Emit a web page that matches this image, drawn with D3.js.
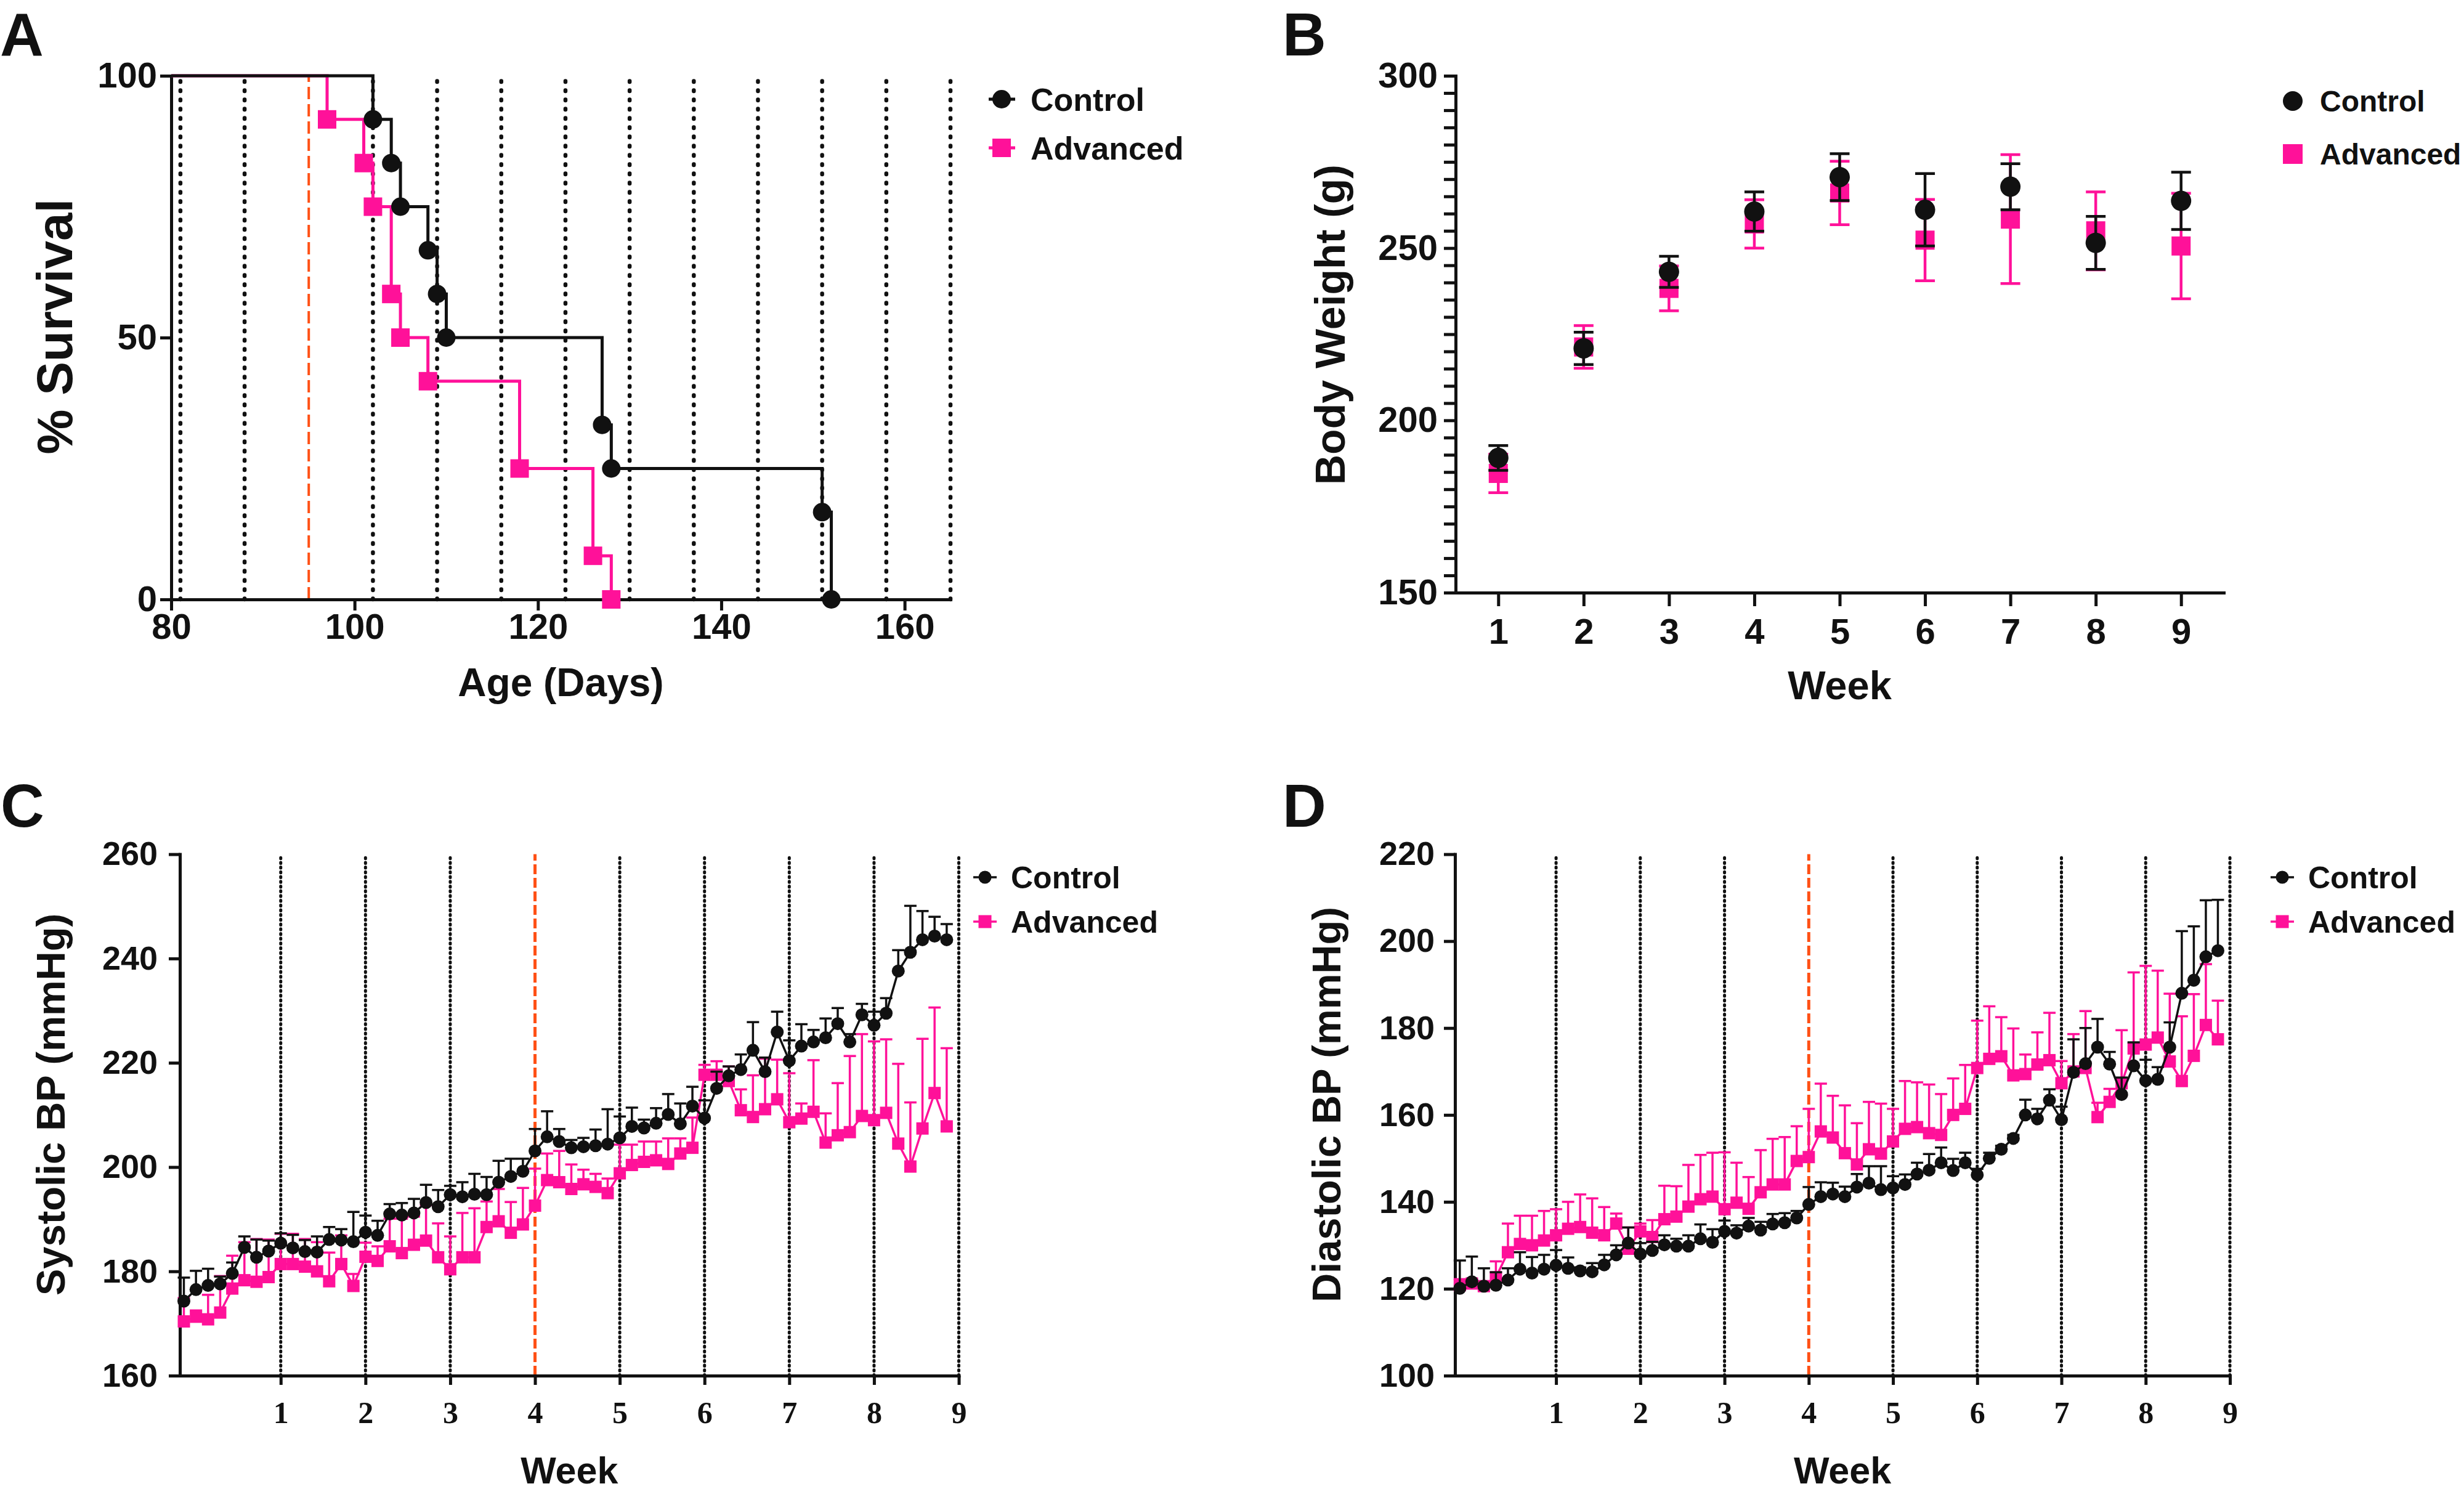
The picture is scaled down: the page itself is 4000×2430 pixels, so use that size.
<!DOCTYPE html>
<html><head><meta charset="utf-8">
<script src="https://cdn.jsdelivr.net/npm/d3@7"></script>
<style>
body{margin:0;background:#fff}
svg{display:block;background:#fff}
text{font-family:"Liberation Sans",Arial,Helvetica,sans-serif;font-weight:bold;fill:#111}
</style></head><body>
<svg id="chart" width="4000" height="2430"></svg>
<script>
// ---------- Panel A: survival ----------
const survDaysCtrl = [80, 102, 104, 105, 108, 109, 110, 127, 128, 151, 152];
const survCtrl     = [100, 91.67, 83.33, 75, 66.67, 58.33, 50, 33.33, 25, 16.67, 0];
const survDaysAdv  = [80, 97, 101, 102, 104, 105, 108, 118, 126, 128];
const survAdv      = [100, 91.67, 83.33, 75, 58.33, 50, 41.67, 25, 8.33, 0];
const survGridDays = [81, 88, 102, 109, 116, 123, 130, 137, 144, 151, 158, 165];
const survMarkerDay = 95;
const survXTicks = [80, 100, 120, 140, 160];
const survYTicks = [0, 50, 100];

// ---------- Panel B: body weight ----------
const bwWeeks   = [1, 2, 3, 4, 5, 6, 7, 8, 9];
const bwCtrl    = [189.1, 220.9, 243.1, 260.6, 270.6, 261.1, 267.8, 251.5, 263.7];
const bwCtrlErr = [3.6, 4.7, 4.5, 5.7, 6.8, 10.5, 6.7, 7.7, 8.3];
const bwAdv     = [184.6, 221.3, 238.3, 257.0, 266.0, 252.3, 258.4, 255.0, 250.6];
const bwAdvErr  = [5.6, 6.2, 6.5, 7.0, 9.2, 11.8, 18.7, 11.3, 15.3];
const bwYLabels = [150, 200, 250, 300];

// ---------- Panels C & D: blood pressure (daily, day -1 .. 62) ----------
const bpDays = [-1,0,1,2,3,4,5,6,7,8,9,10,11,12,13,14,15,16,17,18,19,20,
  21,22,23,24,25,26,27,28,29,30,31,32,33,34,35,36,37,38,39,40,41,
  42,43,44,45,46,47,48,49,50,51,52,53,54,55,56,57,58,59,60,61,62];
const bpWeekTicks = [1, 2, 3, 4, 5, 6, 7, 8, 9];
const bpGridWeeks = [1, 2, 3, 5, 6, 7, 8, 9];
const bpMarkerWeek = 4;

const sbpCtrl = [174.3,176.5,177.3,177.6,179.6,184.6,182.7,183.9,185.4,184.5,183.8,183.7,186.1,186.0,185.7,187.5,186.9,191.0,190.8,191.2,193.2,192.4,
  194.7,194.3,194.8,194.7,197.1,198.2,199.2,203.1,205.8,204.9,203.7,203.9,204.1,204.4,205.6,207.8,207.5,208.4,210.1,208.3,211.7,
  209.4,215.1,217.5,218.7,222.4,218.3,225.9,220.4,223.2,224.0,224.8,227.5,224.0,229.2,227.2,229.5,237.6,241.2,243.6,244.3,243.6];
const sbpCtrlErr = [4.5,3.6,3.2,1.4,2.1,2.1,3.4,2.0,1.9,2.5,2.2,3.0,2.4,2.1,5.7,3.2,2.8,1.9,2.3,2.7,3.4,3.2,
  1.7,2.8,3.9,3.4,4.1,3.4,2.4,4.2,4.9,2.4,1.5,1.7,3.1,6.7,4.1,3.6,1.6,2.9,3.9,3.9,3.7,
  3.4,3.2,1.8,2.9,5.4,2.7,3.9,3.9,4.2,2.3,3.7,3.0,1.5,2.1,2.6,2.9,4.0,8.9,5.5,3.7,3.0];
const sbpAdv = [170.4,171.3,170.8,172.1,176.7,178.3,178.0,178.9,181.4,181.4,180.9,180.0,178.1,181.4,177.2,182.8,182.0,184.8,183.5,185.1,185.9,182.7,
  180.4,182.7,182.7,188.5,189.6,187.4,189.0,192.6,197.5,197.1,195.8,196.7,196.2,195.0,198.8,200.4,201.0,201.3,200.6,202.6,203.7,
  217.7,217.7,216.5,210.9,209.6,211.1,213.0,208.6,209.3,210.6,204.7,206.1,206.7,209.8,209.0,210.4,204.5,200.1,207.4,214.2,207.8];
const sbpAdvErr = [4.5,1.2,4.7,7.0,6.3,7.3,8.2,7.2,5.8,5.8,5.3,5.6,5.5,5.5,2.3,2.7,2.8,5.3,6.6,5.4,6.8,6.5,
  6.3,8.5,9.4,4.9,6.2,5.9,7.0,7.1,5.1,6.0,4.7,2.8,2.5,2.8,5.5,3.9,3.9,3.6,4.9,2.9,5.8,
  1.9,2.6,2.8,4.0,8.0,9.7,7.6,9.4,2.9,9.9,5.6,10.0,14.6,15.7,15.1,14.1,15.3,12.3,17.2,16.4,15.0];

const dbpCtrl = [120.1,121.6,120.6,120.8,122.0,124.5,123.6,124.5,125.4,124.7,124.1,123.9,125.5,127.8,130.5,128.0,128.8,130.1,129.8,129.8,131.5,130.7,
  133.2,132.8,134.4,133.5,134.9,135.2,136.3,139.4,141.2,141.8,141.2,143.4,144.3,142.8,143.2,144.0,146.4,147.3,149.0,147.2,149.0,
  146.2,150.0,152.1,154.6,160.0,159.1,163.4,158.9,169.8,171.8,175.6,171.7,164.7,171.3,167.9,168.2,175.6,188.0,191.0,196.4,197.8];
const dbpCtrlErr = [6.4,5.8,4.1,3.0,2.7,3.9,3.7,3.3,3.5,2.5,0.8,2.0,2.3,2.2,3.6,2.5,2.0,2.2,1.7,2.5,3.3,3.0,
  2.5,1.8,1.9,1.9,2.3,2.2,1.6,4.0,3.3,2.6,2.3,3.0,3.9,5.4,2.7,2.3,2.6,3.7,3.5,2.7,2.3,
  1.4,1.3,0.8,0.8,3.5,2.3,2.5,3.0,7.6,8.2,6.5,2.8,3.9,5.4,4.8,2.8,5.7,14.3,12.4,13.0,11.7];
const dbpAdv = [120.8,121.2,120.6,122.6,128.4,130.3,130.0,131.1,132.3,133.8,134.2,132.9,132.3,135.0,129.2,133.2,131.9,136.0,136.6,138.9,140.6,141.2,
  138.3,139.8,138.4,142.2,144.0,144.0,149.4,150.3,156.2,154.8,151.2,148.6,152.1,151.1,153.9,156.8,157.2,155.8,155.4,160.0,161.4,
  170.8,172.9,173.5,169.1,169.4,171.6,172.6,167.3,170.0,170.8,159.5,163.0,167.3,175.3,176.2,177.8,172.3,167.8,173.6,180.7,177.4];
const dbpAdvErr = [1.4,1.0,0.5,3.7,6.6,6.5,6.8,6.8,6.0,6.2,7.5,7.9,6.5,2.3,4.9,1.8,3.9,7.7,7.0,9.6,10.2,10.1,
  13.1,9.2,7.3,9.7,10.5,10.9,8.0,11.1,11.0,9.6,11.0,9.5,10.9,11.5,7.5,11.0,10.3,11.2,9.4,8.4,10.1,
  10.9,12.1,9.0,10.8,4.5,7.4,10.9,5.1,8.6,13.1,3.3,3.0,12.2,17.5,18.1,15.4,15.6,14.9,14.2,14.0,8.9];

const seriesNames = ['Control', 'Advanced'];

// ---------- styling ----------
const PINK = '#FF1199', BLACK = '#111111', ORANGE = '#FF5015';
const SANS = '"Liberation Sans", Arial, Helvetica, sans-serif';
const SERIF = '"Liberation Serif", "Times New Roman", serif';
const svg = d3.select('#chart');

function styleAxis(g, sw, fs, family) {
  g.select('.domain').attr('stroke', BLACK).attr('stroke-width', sw).attr('stroke-linecap', 'square');
  g.selectAll('.tick line').attr('stroke', BLACK).attr('stroke-width', sw);
  g.selectAll('.tick text').attr('fill', BLACK)
    .style('font-size', fs + 'px').style('font-family', family).style('font-weight', 'bold');
}
function dotted(g, x1, y1, x2, y2, w, dash) {
  g.append('line').attr('x1', x1).attr('x2', x2).attr('y1', y1).attr('y2', y2)
    .attr('stroke', BLACK).attr('stroke-width', w).attr('stroke-dasharray', dash).attr('stroke-linecap', 'round');
}
function dashedOrange(g, x1, y1, x2, y2, w, dash) {
  g.append('line').attr('x1', x1).attr('x2', x2).attr('y1', y1).attr('y2', y2)
    .attr('stroke', ORANGE).attr('stroke-width', w).attr('stroke-dasharray', dash);
}
function marker(g, shape, cx, cy, size, color) {
  if (shape === 'circle') g.append('circle').attr('cx', cx).attr('cy', cy).attr('r', size / 2).attr('fill', color);
  else g.append('rect').attr('x', cx - size / 2).attr('y', cy - size / 2).attr('width', size).attr('height', size).attr('fill', color);
}
function label(txt, x, y, fs, opts = {}) {
  const t = svg.append('text').attr('x', x).attr('y', y).text(txt)
    .style('font-size', fs + 'px').style('font-family', opts.family || SANS).style('font-weight', 'bold')
    .attr('text-anchor', opts.anchor || 'start').attr('fill', BLACK);
  if (opts.rotate) t.attr('transform', `rotate(-90 ${x} ${y})`);
  if (opts.dy) t.attr('dy', opts.dy);
  return t;
}

// panel letters
label('A', 0, 90, 98); label('B', 2082, 90, 98);
label('C', 1, 1342, 98); label('D', 2082, 1342, 98);

// ================= Panel A =================
{
  const x = d3.scaleLinear().domain([80, 165]).range([278, 1543]);
  const y = d3.scaleLinear().domain([0, 100]).range([973, 123]);
  const g = svg.append('g');
  survGridDays.forEach(d => dotted(g, x(d), y(0), x(d), y(100), 6.5, '1.5 13.5'));
  dashedOrange(g, x(survMarkerDay), y(0), x(survMarkerDay), y(100), 4, '20 8');
  const ya = g.append('g').attr('transform', `translate(${x(80)},0)`)
    .call(d3.axisLeft(y).tickValues(survYTicks).tickSize(18).tickPadding(5).tickSizeOuter(0));
  styleAxis(ya, 5, 58, SANS);
  const xa = g.append('g').attr('transform', `translate(0,${y(0)})`)
    .call(d3.axisBottom(x).tickValues(survXTicks).tickSize(18).tickPadding(5).tickSizeOuter(0));
  styleAxis(xa, 5, 58, SANS);
  const step = d3.line().curve(d3.curveStepAfter);
  const sets = [
    [survDaysAdv, survAdv, PINK, 'rect'],
    [survDaysCtrl, survCtrl, BLACK, 'circle']
  ];
  sets.forEach(([ds, vs, col, shp]) => {
    g.append('path').attr('d', step(ds.map((d, i) => [x(d), y(vs[i])])))
      .attr('fill', 'none').attr('stroke', col).attr('stroke-width', 5);
    ds.forEach((d, i) => { if (i > 0) marker(g, shp, x(d), y(vs[i]), 30, col); });
  });
  label('Age (Days)', (x(80) + x(165)) / 2, 1130, 64, {anchor: 'middle'});
  label('% Survival', 117, 530, 82, {anchor: 'middle', rotate: true});
  // legend
  [[seriesNames[0], BLACK, 'circle', 161], [seriesNames[1], PINK, 'rect', 240]].forEach(([n, c, s, ly]) => {
    g.append('line').attr('x1', 1605).attr('x2', 1648).attr('y1', ly).attr('y2', ly).attr('stroke', c).attr('stroke-width', 5);
    marker(g, s, 1626, ly, 30, c);
    label(n, 1673, ly, 52, {dy: '0.36em'});
  });
}

// ================= Panel B =================
{
  const x = d3.scaleLinear().domain([0.5, 9.5]).range([2363, 3610]);
  const y = d3.scaleLinear().domain([150, 300]).range([962, 123]);
  const g = svg.append('g');
  const yTicks = d3.range(150, 301, 5);
  const ya = g.append('g').attr('transform', `translate(${x(0.5)},0)`)
    .call(d3.axisLeft(y).tickValues(yTicks).tickSize(19).tickPadding(10).tickSizeOuter(0)
      .tickFormat(v => bwYLabels.includes(v) ? v : ''));
  styleAxis(ya, 5, 58, SANS);
  const xa = g.append('g').attr('transform', `translate(0,${y(150)})`)
    .call(d3.axisBottom(x).tickValues(bwWeeks).tickSize(22).tickPadding(20).tickSizeOuter(0));
  styleAxis(xa, 5, 58, SANS);
  const sets = [[bwAdv, bwAdvErr, PINK, 'rect'], [bwCtrl, bwCtrlErr, BLACK, 'circle']];
  sets.forEach(([vs, es, col, shp]) => {
    bwWeeks.forEach((w, i) => {
      const cx = x(w), lo = y(vs[i] - es[i]), hi = y(vs[i] + es[i]);
      g.append('line').attr('x1', cx).attr('x2', cx).attr('y1', lo).attr('y2', hi).attr('stroke', col).attr('stroke-width', 4.5);
      [lo, hi].forEach(yy => g.append('line').attr('x1', cx - 16).attr('x2', cx + 16).attr('y1', yy).attr('y2', yy).attr('stroke', col).attr('stroke-width', 4.5));
    });
    bwWeeks.forEach((w, i) => marker(g, shp, x(w), y(vs[i]), shp === 'circle' ? 33 : 31, col));
  });
  label('Week', (x(0.5) + x(9.5)) / 2, 1135, 65, {anchor: 'middle'});
  label('Body Weight (g)', 2183, 527, 68, {anchor: 'middle', rotate: true});
  [[seriesNames[0], BLACK, 'circle', 164], [seriesNames[1], PINK, 'rect', 250]].forEach(([n, c, s, ly]) => {
    marker(g, s, 3722, ly, 32, c);
    label(n, 3766, ly, 48, {dy: '0.36em'});
  });
}

// ================= Panels C & D =================
function bpPanel(cfg) {
  const x = d3.scaleLinear().domain([cfg.w0, 9]).range(cfg.xr);
  const y = d3.scaleLinear().domain(cfg.yd).range([2233, 1386.6]);
  const g = svg.append('g');
  bpGridWeeks.forEach(w => dotted(g, x(w), y(cfg.yd[0]), x(w), y(cfg.yd[1]), 5, '1.5 6.2'));
  dashedOrange(g, x(bpMarkerWeek), y(cfg.yd[0]), x(bpMarkerWeek), y(cfg.yd[1]), 5, '16 6');
  const ya = g.append('g').attr('transform', `translate(${cfg.xr[0]},0)`)
    .call(d3.axisLeft(y).tickValues(d3.range(cfg.yd[0], cfg.yd[1] + 1, 20)).tickSize(18).tickPadding(cfg.ypad).tickSizeOuter(0));
  styleAxis(ya, 5, 54, SANS);
  const xa = g.append('g').attr('transform', `translate(0,${y(cfg.yd[0])})`)
    .call(d3.axisBottom(x).tickValues(bpWeekTicks).tickSize(15).tickPadding(26).tickSizeOuter(0));
  styleAxis(xa, 5, 50, SERIF);
  const sets = [[cfg.adv, cfg.advErr, PINK, 'rect'], [cfg.ctrl, cfg.ctrlErr, BLACK, 'circle']];
  sets.forEach(([vs, es, col, shp]) => {
    const pts = bpDays.map((d, i) => ({x: x(d / 7), y: y(vs[i]), t: y(vs[i] + es[i])}));
    pts.forEach(p => {
      g.append('line').attr('x1', p.x).attr('x2', p.x).attr('y1', p.y).attr('y2', p.t).attr('stroke', col).attr('stroke-width', 3.5);
      g.append('line').attr('x1', p.x - 10).attr('x2', p.x + 10).attr('y1', p.t).attr('y2', p.t).attr('stroke', col).attr('stroke-width', 3.5);
    });
    g.append('path').attr('d', d3.line().x(p => p.x).y(p => p.y)(pts))
      .attr('fill', 'none').attr('stroke', col).attr('stroke-width', 3.5);
    pts.forEach(p => marker(g, shp, p.x, p.y, shp === 'circle' ? 21 : 20, col));
  });
  label('Week', (cfg.xr[0] + cfg.xr[1]) / 2, 2408, 61, {anchor: 'middle'});
  label(cfg.title, cfg.titleX, 1793, 65, {anchor: 'middle', rotate: true});
  [[seriesNames[0], BLACK, 'circle', 1424], [seriesNames[1], PINK, 'rect', 1496]].forEach(([n, c, s, ly]) => {
    g.append('line').attr('x1', cfg.legX - 19).attr('x2', cfg.legX + 19).attr('y1', ly).attr('y2', ly).attr('stroke', c).attr('stroke-width', 3.5);
    marker(g, s, cfg.legX, ly, 21, c);
    label(n, cfg.legX + 42, ly, 50, {dy: '0.36em'});
  });
}
bpPanel({w0: -0.19, xr: [292, 1556.5], yd: [160, 260], ypad: 18, ctrl: sbpCtrl, ctrlErr: sbpCtrlErr, adv: sbpAdv, advErr: sbpAdvErr,
  title: 'Systolic BP (mmHg)', titleX: 105, legX: 1599});
bpPanel({w0: -0.2, xr: [2362, 3620], yd: [100, 220], ypad: 15, ctrl: dbpCtrl, ctrlErr: dbpCtrlErr, adv: dbpAdv, advErr: dbpAdvErr,
  title: 'Diastolic BP (mmHg)', titleX: 2176, legX: 3705});
</script>
</body></html>
